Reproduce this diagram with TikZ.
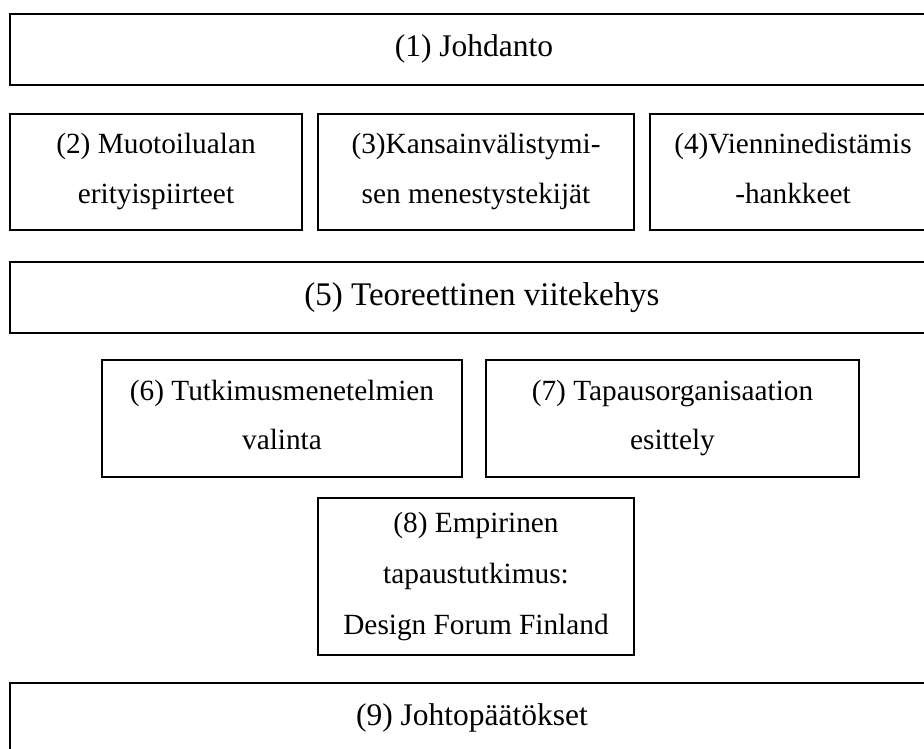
\documentclass[tikz,border=0pt]{standalone}
\usepackage{fontspec}
\setmainfont{Liberation Serif}
\newcommand\lnstrut{\vrule width 0pt height 20pt depth 7pt}
\begin{document}
\begin{tikzpicture}[x=1pt,y=-1pt,
  box/.style={draw=black, line width=1.3pt, rectangle, inner sep=0pt, align=center,
    font={\fontsize{29.3}{49.5}\selectfont}, text=black},
  widelines/.style={font={\fontsize{29.3}{51}\selectfont}},
  bigtext/.style={font={\fontsize{31.5}{49.5}\selectfont}},
  hugetext/.style={font={\fontsize{33}{49.5}\selectfont}}]
\useasboundingbox (0,0) rectangle (924,749);
\node[box, bigtext, minimum width=928pt, minimum height=71pt] (b1) at (474,49.5) {\lnstrut(1) Johdanto};
\node[box, minimum width=292pt, minimum height=116pt] (b2) at (156,172) {\lnstrut(2) Muotoilualan\\\lnstrut erityispiirteet};
\node[box, minimum width=316pt, minimum height=116pt] (b3) at (476,172) {\lnstrut(3)Kansainvälistymi-\\\lnstrut sen menestystekijät};
\node[box, minimum width=286pt, minimum height=116pt] (b4) at (793,172) {\lnstrut(4)Vienninedistämis\\\lnstrut-hankkeet};
\node[box, hugetext, minimum width=944pt, minimum height=71pt] (b5) at (482,297.5) {\lnstrut(5) Teoreettinen viitekehys};
\node[box, minimum width=360pt, minimum height=117pt] (b6) at (282,418.5) {\lnstrut(6) Tutkimusmenetelmien\\\lnstrut valinta};
\node[box, minimum width=373pt, minimum height=117pt] (b7) at (672.5,418.5) {\lnstrut(7) Tapausorganisaation\\\lnstrut esittely};
\node[box, widelines, minimum width=316pt, minimum height=157pt] (b8) at (476,576.5) {\lnstrut(8) Empirinen\\\lnstrut tapaustutkimus:\\\lnstrut Design Forum Finland};
\node[box, bigtext, minimum width=924pt, minimum height=71pt] (b9) at (472,718.5) {\lnstrut(9) Johtopäätökset};
\end{tikzpicture}
\end{document}
